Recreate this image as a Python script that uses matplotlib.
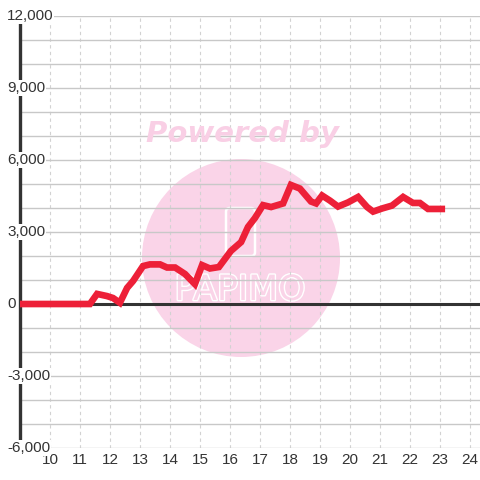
import matplotlib
matplotlib.use("Agg")
import matplotlib.pyplot as plt
from matplotlib.patches import Circle, FancyBboxPatch
import matplotlib.patheffects as pe

# series (hour of day, value)
hours = [9.0, 11.33, 11.57, 11.9, 12.1, 12.33, 12.57, 12.77, 13.1, 13.33, 13.67,
         13.9, 14.17, 14.5, 14.83, 15.07, 15.33, 15.63, 16.03, 16.37, 16.6, 16.83,
         17.1, 17.37, 17.77, 18.03, 18.33, 18.7, 18.87, 19.07, 19.33, 19.6, 19.93,
         20.27, 20.57, 20.77, 21.07, 21.4, 21.77, 22.1, 22.33, 22.6, 23.17]
values = [0, 0, 420, 330, 250, 50, 670, 960, 1580, 1650, 1650,
          1520, 1520, 1250, 830, 1620, 1480, 1540, 2210, 2580, 3210, 3580,
          4120, 4040, 4190, 4960, 4810, 4270, 4190, 4520, 4310, 4060, 4230,
          4460, 4040, 3850, 3980, 4100, 4460, 4210, 4210, 3960, 3960]

x_ticks = list(range(10, 25))
y_ticks = [-6000, -3000, 0, 3000, 6000, 9000, 12000]
y_labels = ["-6,000", "-3,000", "0", "3,000", "6,000", "9,000", "12,000"]
y_grid = list(range(-6000, 12001, 1000))

txt_color = "#333333"
red = "#ED2038"
pink = "#FAD4E8"

fig = plt.figure(figsize=(4.8, 4.8), dpi=100)
ax = fig.add_axes([20 / 480, 32 / 480, 460 / 480, 432 / 480])
ax.set_xlim(9, 9 + 460 / 30)
ax.set_ylim(-6000, 12000)

# watermark
ax.add_patch(Circle((241 / 480, 1 - 258 / 480), 99 / 480, transform=fig.transFigure,
                    facecolor=pink, edgecolor="none", zorder=0.1, clip_on=False))
ax.add_patch(FancyBboxPatch((226 / 480, 1 - 256 / 480), 29 / 480, 48 / 480,
                            boxstyle="round,pad=0,rounding_size=0.008",
                            transform=fig.transFigure, facecolor="none",
                            edgecolor="white", lw=1.8, zorder=0.2, clip_on=False))
fig.text(242 / 480, 1 - 134 / 480, "Powered by", color="#F9CFE5", fontsize=21,
         fontweight="bold", fontstyle="italic", family="DejaVu Sans",
         ha="center", va="center", zorder=0.2)
ax.text(240 / 480, 1 - 290 / 480, "PAPIMO", transform=fig.transFigure, color=pink,
        fontsize=25, family="DejaVu Sans", ha="center", va="center", zorder=0.3,
        path_effects=[pe.withStroke(linewidth=2, foreground="white")])

# grid
ax.set_axisbelow(True)
ax.set_yticks(y_grid)
ax.set_yticklabels([])
ax.set_xticks(x_ticks)
ax.tick_params(length=0, labelsize=11, labelcolor=txt_color, pad=3.4)
ax.grid(axis="y", color="#C8C8C8", lw=1.0, ls="-")
ax.grid(axis="x", color="#D2D2D2", lw=0.8, ls=(0, (3, 3)))
for lbl in ax.get_xticklabels():
    lbl.set_family("Liberation Sans")

for s in ["top", "right", "bottom"]:
    ax.spines[s].set_visible(False)
ax.spines["left"].set_color(txt_color)
ax.spines["left"].set_linewidth(2.4)

ax.axhline(0, color=txt_color, lw=2.2, zorder=2.5)
ax.plot(hours, values, color=red, lw=4.8, solid_capstyle="butt",
        solid_joinstyle="miter", zorder=3)

# y labels sit over the left spine with a white box
ytr = ax.get_yaxis_transform()
for v, lab in zip(y_ticks, y_labels):
    ax.text(-13 / 460, v, lab, transform=ytr, ha="left", va="center",
            fontsize=11, color=txt_color, family="Liberation Sans", zorder=6,
            clip_on=False,
            bbox=dict(facecolor="white", edgecolor="none", pad=0.5))

fig.savefig("out.png", dpi=100, facecolor="white")
